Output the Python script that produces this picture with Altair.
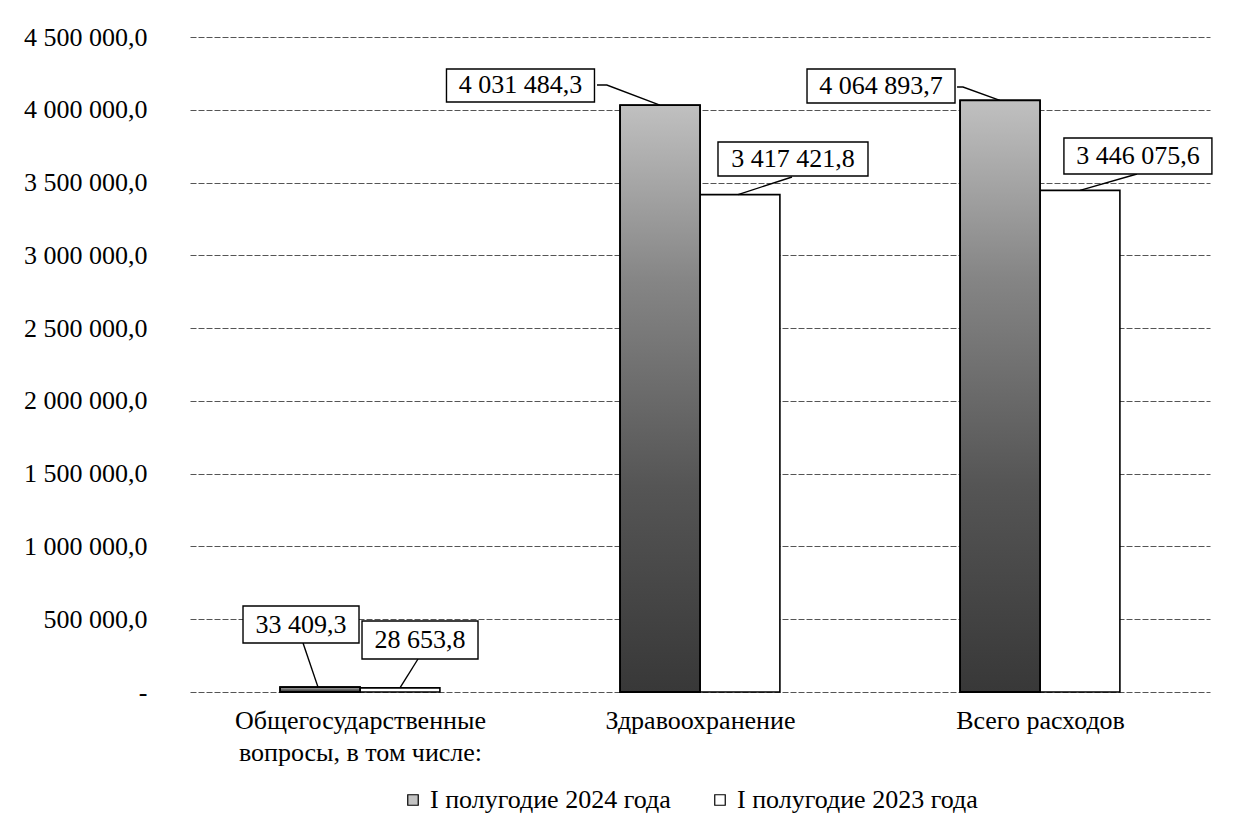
import altair as alt
import pandas as pd

# ---------------- data ----------------
cat_lines = [["Общегосударственные", "вопросы, в том числе:"], ["Здравоохранение"], ["Всего расходов"]]
series = ["I полугодие 2024 года", "I полугодие 2023 года"]
values_2024 = [33409.3, 4031484.3, 4064893.7]
values_2023 = [28653.8, 3417421.8, 3446075.6]
y_ticks = [0, 500000, 1000000, 1500000, 2000000, 2500000, 3000000, 3500000, 4000000, 4500000]

# ---------------- layout (annotation placement, separate from data) ----------------
W, H = 1020, 655
X_DOMAIN = [-0.5, 2.5]
Y_DOMAIN = [0, 4500000]
PX_X = W / (X_DOMAIN[1] - X_DOMAIN[0])      # px per category unit
PX_Y = H / (Y_DOMAIN[1] - Y_DOMAIN[0])      # px per value unit
BAR_W = 0.235                                # bar width in category units

# label box centre (category units, value units) and box size in px, per label
# order: cat0-2024, cat0-2023, cat1-2024, cat1-2023, cat2-2024, cat2-2023
box_cx = [-0.1735, 0.1765, 0.472, 1.2735, 1.5324, 2.288]
box_cy = [463700, 357300, 4166800, 3662000, 4163400, 3682400]
box_w_px = [116, 116, 148, 150, 148, 148]
box_h_px = [37, 38, 33, 34, 34, 36]
# leader line points (category units, value units) before reaching the bar top
leader_x = [[-0.1676], [0.1706], [0.697, 0.726], [1.2706], [1.756, 1.7735], [2.2853]]
leader_y = [[336600], [226700], [4170000, 4170000], [3538000], [4156500, 4156500], [3558800]]
leader_end_x = [-0.1235, 0.1176, 0.882, 1.1118, 1.882, 2.1176]


def fmt(v):
    return f"{v:,.1f}".replace(",", " ").replace(".", ",")


# ---------------- tables ----------------
rows = []
for i in range(3):
    rows.append(dict(cat=i, series=series[0], value=values_2024[i], x0=i - BAR_W, x1=i))
    rows.append(dict(cat=i, series=series[1], value=values_2023[i], x0=i, x1=i + BAR_W))
bars = pd.DataFrame(rows)

lab_rows, line_rows = [], []
for k, r in enumerate(rows):
    hw = box_w_px[k] / 2 / PX_X
    hh = box_h_px[k] / 2 / PX_Y
    lab_rows.append(dict(id=k, text=fmt(r["value"]), cx=box_cx[k], cy=box_cy[k],
                         bx0=box_cx[k] - hw, bx1=box_cx[k] + hw,
                         by0=box_cy[k] - hh, by1=box_cy[k] + hh))
    pts = list(zip(leader_x[k], leader_y[k]))
    for j, (lx, ly) in enumerate(pts):
        line_rows.append(dict(id=k, ord=j, lx=lx, ly=ly))
    line_rows.append(dict(id=k, ord=len(pts), lx=leader_end_x[k], ly=r["value"]))
labels = pd.DataFrame(lab_rows)
lines = pd.DataFrame(line_rows)

FONT = "Liberation Serif"

label_expr_x = " : ".join(
    f"datum.value == {i} ? [{', '.join(repr(s) for s in ls)}]" for i, ls in enumerate(cat_lines)
) + " : ''"
label_expr_y = ("datum.value == 0 ? '-\u00a0\u00a0' : "
                "replace(replace(format(datum.value, ',.1f'), regexp(',', 'g'), ' '), '.', ',')")

x_scale = alt.Scale(domain=X_DOMAIN, nice=False, zero=False)
y_scale = alt.Scale(domain=Y_DOMAIN, nice=False)

x_axis = alt.Axis(values=[0, 1, 2], labelExpr=label_expr_x, title=None, grid=False, domain=False,
                  ticks=False, labelFont=FONT, labelFontSize=26, labelColor="black",
                  labelPadding=15, labelLineHeight=32, labelFlush=False, labelOverlap=False,
                  labelLimit=0)
y_axis = alt.Axis(values=y_ticks, labelExpr=label_expr_y, title=None, grid=True, gridColor="#555",
                  gridDash=[6, 2], gridWidth=1, domain=False, ticks=False, labelFont=FONT,
                  labelFontSize=26, labelColor="black", labelPadding=43, labelLimit=0)

base_bars = alt.Chart(bars).mark_bar(stroke="black", strokeWidth=1.6).encode(
    x=alt.X("x0:Q", scale=x_scale, axis=x_axis),
    x2="x1:Q",
    y=alt.Y("value:Q", scale=y_scale, axis=y_axis),
    y2=alt.datum(0),
    fill=alt.Fill("series:N", scale=alt.Scale(domain=series, range=["#c4c4c4", "white"]),
                  legend=alt.Legend(orient="none", legendX=210, legendY=750, direction="horizontal",
                                    title=None, symbolType="square", symbolSize=110,
                                    symbolStrokeColor="black", symbolStrokeWidth=1.2,
                                    labelFont=FONT, labelFontSize=26, labelColor="black",
                                    labelOffset=4, columnPadding=36, padding=0, labelLimit=500)),
)

grad = alt.Gradient(gradient="linear", x1=0, x2=0, y1=0, y2=1,
                    stops=[alt.GradientStop(color="#c0c0c0", offset=0),
                           alt.GradientStop(color="#858585", offset=0.3),
                           alt.GradientStop(color="#555555", offset=0.65),
                           alt.GradientStop(color="#383838", offset=1)])

dark_bars = alt.Chart(bars).transform_filter(
    alt.datum.series == series[0]
).mark_bar(color=grad, stroke="black", strokeWidth=1.8).encode(
    x=alt.X("x0:Q", title=None), x2="x1:Q", y=alt.Y("value:Q", title=None), y2=alt.datum(0)
)

leaders = alt.Chart(lines).mark_line(color="black", strokeWidth=1.4).encode(
    x=alt.X("lx:Q", title=None), y=alt.Y("ly:Q", title=None), detail="id:N", order="ord:Q"
)

boxes = alt.Chart(labels).mark_rect(fill="white", stroke="black", strokeWidth=1.4).encode(
    x=alt.X("bx0:Q", title=None), x2="bx1:Q", y=alt.Y("by0:Q", title=None), y2="by1:Q"
)

texts = alt.Chart(labels).mark_text(font=FONT, fontSize=26, color="black", baseline="middle",
                                    align="center").encode(
    x=alt.X("cx:Q", title=None), y=alt.Y("cy:Q", title=None), text="text:N"
)

chart = alt.layer(base_bars, dark_bars, leaders, boxes, texts).properties(
    width=W, height=H,
    autosize=alt.AutoSizeParams(type="none"),
    padding={"left": 182, "top": 29, "right": 26, "bottom": 128},
    background="white",
).configure_view(stroke=None)

chart.save("out.html", embed_options={"renderer": "svg", "actions": False})
